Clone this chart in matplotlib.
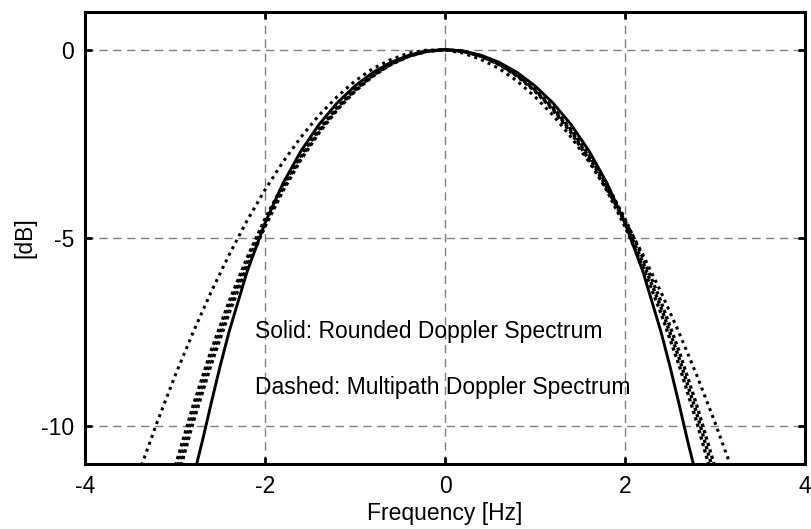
import matplotlib
matplotlib.use("Agg")
import matplotlib.pyplot as plt

plt.rcParams["font.family"] = ["Liberation Sans", "DejaVu Sans"]
plt.rcParams["axes.unicode_minus"] = False

# Rounded Doppler spectrum (solid)
solid_freq = [-2.8, -2.7, -2.6, -2.5, -2.4, -2.2, -2.0, -1.8, -1.6, -1.4, -1.2, -1.0,
              -0.8, -0.6, -0.4, -0.2, 0.0, 0.2, 0.4, 0.6, 0.8, 1.0, 1.2, 1.4, 1.6,
              1.8, 2.0, 2.2, 2.4, 2.5, 2.6, 2.7, 2.8]
solid_db = [-11.39, -10.43, -9.405, -8.414, -7.494, -5.899, -4.602, -3.547, -2.688,
            -1.987, -1.417, -0.961, -0.604, -0.335, -0.147, -0.037, 0.0, -0.037,
            -0.147, -0.335, -0.604, -0.961, -1.417, -1.987, -2.688, -3.547, -4.602,
            -5.899, -7.494, -8.414, -9.405, -10.43, -11.39]

# Multipath Doppler spectrum, widest estimate (sparse dots)
outer_freq = [-3.4, -3.2, -3.0, -2.8, -2.6, -2.4, -2.2, -2.0, -1.8, -1.6, -1.4, -1.2,
              -1.0, -0.8, -0.6, -0.4, -0.2, 0.0, 0.2, 0.4, 0.6, 0.8, 1.0, 1.2, 1.4,
              1.6, 1.8, 2.0, 2.2, 2.4, 2.6, 2.8, 3.0, 3.2]
outer_db = [-11.22, -9.90, -8.66, -7.51, -6.44, -5.45, -4.54, -3.72, -2.98, -2.32,
            -1.74, -1.25, -0.83, -0.50, -0.26, -0.09, -0.01, -0.01, -0.09, -0.26,
            -0.50, -0.83, -1.25, -1.74, -2.32, -2.98, -3.72, -4.54, -5.45, -6.44,
            -7.51, -8.66, -9.90, -11.22]

# Multipath Doppler spectrum, cluster of close estimates (one half, mirrored)
band_freq = [-3.2, -3.0, -2.8, -2.6, -2.4, -2.2, -2.0, -1.8, -1.6, -1.4, -1.2, -1.0,
             -0.8, -0.6, -0.4, -0.2, 0.0, 0.2, 0.4, 0.6, 0.8, 1.0, 1.2, 1.4, 1.6,
             1.8, 2.0, 2.2, 2.4, 2.6, 2.8, 3.0, 3.2]
band_mid_half = [0.0, -0.0424, -0.1699, -0.3839, -0.6866, -1.0809, -1.5708, -2.1609,
                 -2.8570, -3.6654, -4.5936, -5.6497, -6.8429, -8.1830, -9.6808,
                 -11.348, -13.197]
band_wide_half = [0.0, -0.0415, -0.1666, -0.3763, -0.6729, -1.0592, -1.5389, -2.1167,
                  -2.7978, -3.5886, -4.4962, -5.5283, -6.6937, -8.0019, -9.4634,
                  -11.089, -12.892]
band_narrow_half = [0.0, -0.0432, -0.1734, -0.3918, -0.7007, -1.1033, -1.6036, -2.2066,
                    -2.9180, -3.7447, -4.6943, -5.7754, -6.9973, -8.3704, -9.9061,
                    -11.616, -13.514]
band_curves = [half[:0:-1] + half for half in
               (band_mid_half, band_wide_half, band_narrow_half)]

x_ticks = [-4, -2, 0, 2, 4]
y_ticks = [-10, -5, 0]

fig = plt.figure(figsize=(8.12, 5.29), dpi=100)
ax = fig.add_axes([0.1047, 0.1229, 0.8867, 0.8544])

ax.plot(solid_freq, solid_db, color="black", lw=2.1, solid_capstyle="butt")
ax.plot(outer_freq, outer_db, color="black", lw=2.2, linestyle=(0, (1, 1.4)))
for db in band_curves:
    ax.plot(band_freq, db, color="black", lw=2.4, linestyle=(0, (1, 1.0)))

ax.set_xlim(-4, 4)
ax.set_ylim(-11, 1)
ax.set_xticks(x_ticks)
ax.set_yticks(y_ticks)
ax.grid(True, color="#808080", linestyle=(0, (6, 4)), linewidth=1.0)
ax.set_axisbelow(True)

for s in ax.spines.values():
    s.set_linewidth(2.2)
ax.tick_params(direction="in", length=5, width=2, top=True, right=True,
               labelsize=16.5, pad=8)

ax.set_xlabel("Frequency [Hz]", fontsize=16.5, labelpad=3)
ax.set_ylabel("[dB]", fontsize=16.5, labelpad=3)

ax.text(-2.11, -7.48, "Solid: Rounded Doppler Spectrum", fontsize=16.5,
        ha="left", va="center")
ax.text(-2.11, -8.98, "Dashed: Multipath Doppler Spectrum", fontsize=16.5,
        ha="left", va="center")

fig.savefig("out.png", dpi=100)
